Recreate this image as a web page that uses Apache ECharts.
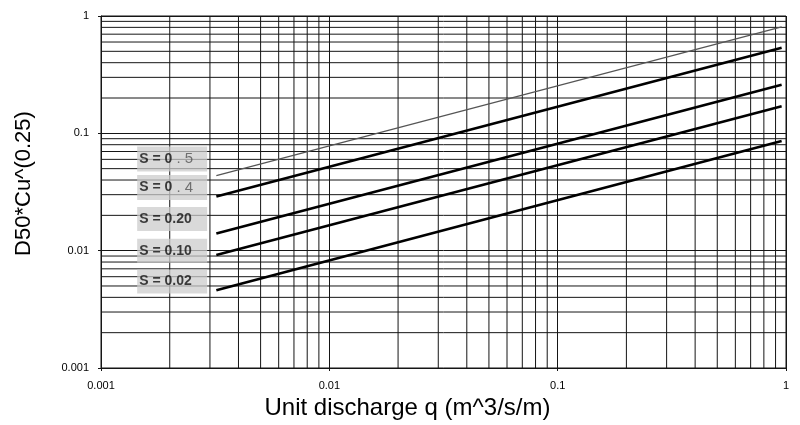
<!DOCTYPE html>
<html>
<head>
<meta charset="UTF-8">
<title>D50*Cu^(0.25) vs unit discharge</title>
<script src="https://cdn.jsdelivr.net/npm/echarts@6/dist/echarts.min.js"></script>
<style>
  html, body { margin: 0; padding: 0; background: #fff; }
  #container { width: 800px; height: 425px; }
</style>
</head>
<body>
<div id="container"></div>
<script type="text/javascript">
// values (log-log, straight lines -> end points)
var qPoints = [0.0032, 0.957];
var lineS05 = [0.0436, 0.807];
var lineS04 = [0.029, 0.537];
var lineS020 = [0.0140, 0.260];
var lineS010 = [0.00918, 0.170];
var lineS002 = [0.00459, 0.0861];

var seriesNames = ['S = 0.5', 'S = 0.4', 'S = 0.20', 'S = 0.10', 'S = 0.02'];
var seriesValues = [lineS05, lineS04, lineS020, lineS010, lineS002];
var labelTexts = ['{a|S = 0}{b| . 5}', '{a|S = 0}{b| . 4}', '{a|S = 0.20}', '{a|S = 0.10}', '{a|S = 0.02}'];
// label box anchors (data space, left edge of each box)
var labelQ = 0.00144;
var labelD = [0.0603, 0.0346, 0.0186, 0.00996, 0.00545];

var axisMin = 0.001, axisMax = 1;
var decades = [0.001, 0.01, 0.1];
var mantissas = [2, 3, 4, 5, 6, 7, 8, 9];

var minorVals = [];
decades.forEach(function (d) {
    mantissas.forEach(function (m) { minorVals.push(+(m * d).toPrecision(3)); });
});

var gridColor = '#151515';
var font = 'Liberation Sans, Arial, sans-serif';

var dom = document.getElementById('container');
var myChart = echarts.init(dom);

var series = [];

// minor grid lines, drawn through the axes
minorVals.forEach(function (v) {
    [[[v, axisMin], [v, axisMax]], [[axisMin, v], [axisMax, v]]].forEach(function (pts) {
        series.push({
            type: 'line',
            data: pts,
            symbol: 'none',
            silent: true,
            z: 1,
            lineStyle: { color: gridColor, width: 1 }
        });
    });
});

seriesNames.forEach(function (name, i) {
    var thin = i === 0;
    series.push({
        name: name,
        type: 'line',
        data: qPoints.map(function (q, k) { return [q, seriesValues[i][k]]; }),
        symbol: 'none',
        z: 5,
        lineStyle: { color: thin ? '#555' : '#000', width: thin ? 1.2 : 2.6 }
    });
});

// grey label boxes
series.push({
    type: 'scatter',
    symbolSize: 0,
    silent: true,
    z: 6,
    data: labelD.map(function (d, i) {
        return {
            value: [labelQ, d],
            label: { formatter: labelTexts[i] }
        };
    }),
    label: {
        show: true,
        position: 'inside',
        backgroundColor: 'rgba(204,204,204,0.92)',
        padding: [5, 14, 5, 2],
        width: 54,
        align: 'left',
        rich: {
            a: { fontFamily: font, fontSize: 14, fontWeight: 'bold', color: '#111' },
            b: { fontFamily: font, fontSize: 15, color: '#555' }
        }
    }
});

var option = {
    animation: false,
    grid: { left: 101, right: 14, top: 16, bottom: 55, show: true, borderColor: gridColor, borderWidth: 1 },
    xAxis: {
        type: 'log',
        logBase: 10,
        min: axisMin,
        max: axisMax,
        name: 'Unit discharge q (m^3/s/m)',
        nameLocation: 'middle',
        nameGap: 28,
        nameTextStyle: { fontFamily: font, fontSize: 24, color: '#000', padding: [0, 72, 0, 0] },
        axisLine: { lineStyle: { color: gridColor } },
        axisTick: { show: true, inside: false, length: 3, lineStyle: { color: gridColor } },
        axisLabel: { fontFamily: font, fontSize: 11, color: '#000', margin: 12 },
        splitLine: { show: true, lineStyle: { color: gridColor, width: 1 } }
    },
    yAxis: {
        type: 'log',
        logBase: 10,
        min: axisMin,
        max: axisMax,
        name: 'D50*Cu^(0.25)',
        nameLocation: 'middle',
        nameGap: 66,
        nameTextStyle: { fontFamily: font, fontSize: 22, color: '#000', padding: [0, 0, 0, 17] },
        axisLine: { lineStyle: { color: gridColor } },
        axisTick: { show: true, length: 3, lineStyle: { color: gridColor } },
        axisLabel: { fontFamily: font, fontSize: 11, color: '#000', margin: 12 },
        splitLine: { show: true, lineStyle: { color: gridColor, width: 1 } }
    },
    series: series
};

if (option && typeof option === 'object') {
    myChart.setOption(option, true);
}
</script>
</body>
</html>
